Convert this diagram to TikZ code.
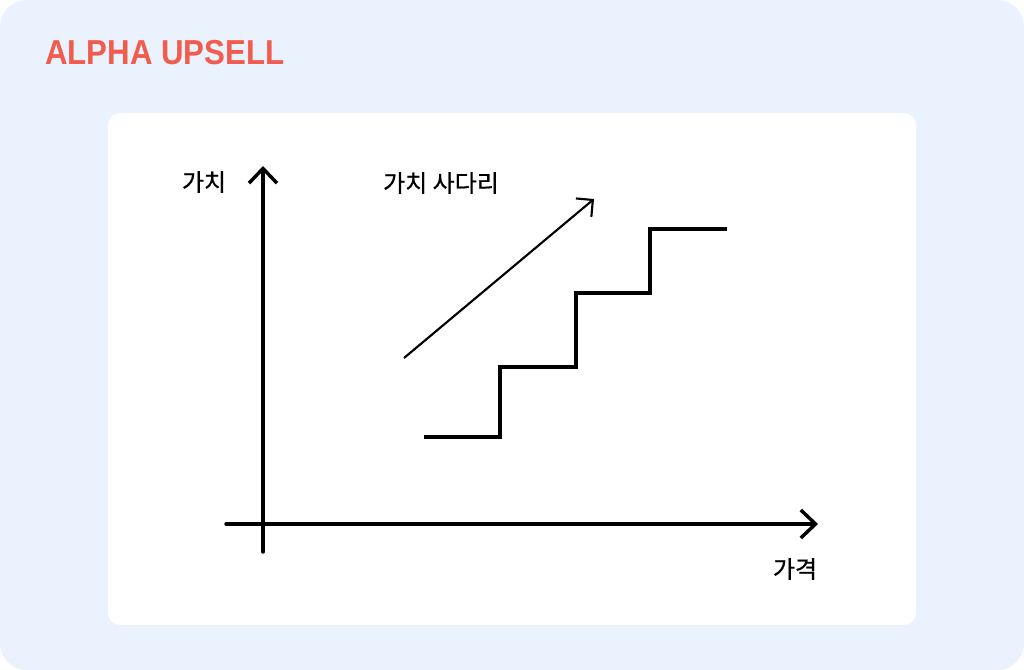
\documentclass[tikz,border=0pt]{standalone}
\usepackage{fontspec}
\setmainfont{Liberation Sans}
\newfontfamily\krfont[RawFeature={embolden=0.7}]{Noto Sans CJK KR}
\usetikzlibrary{arrows.meta}
\definecolor{bgblue}{HTML}{EAF2FD}
\definecolor{titlered}{HTML}{F25C4F}
\tikzset{
  axisline/.style={line width=2.6pt, line cap=round, -{Straight Barb[length=11pt,width=21pt,line width=2.6pt]}},
  stairline/.style={line width=2.5pt, line join=miter},
  diagline/.style={line width=1.6pt, -{Straight Barb[length=9pt,width=18pt,line width=1.6pt]}},
  krlabel/.style={font=\krfont\fontsize{18pt}{21pt}\selectfont, inner sep=0pt},
}
\begin{document}
\begin{tikzpicture}[x=0.75pt,y=-0.75pt]
\useasboundingbox (0,0) rectangle (1024,670);
\fill[bgblue, rounded corners=20pt] (0,0) rectangle (1024,670);
\fill[white, rounded corners=9pt] (108,113) rectangle (916,625);
\node[anchor=west, inner sep=0pt, text=titlered, font=\bfseries\fontsize{26pt}{30pt}\selectfont, xscale=0.9] (title) at (45,53) {ALPHA UPSELL};
% axes
\coordinate (ybot) at (263,552);
\coordinate (ytop) at (263,166);
\coordinate (xleft) at (226,524);
\coordinate (xright) at (818,524);
\draw[axisline] (ybot) -- (ytop);
\draw[axisline] (xleft) -- (xright);
\node[krlabel] (ylab) at (204,182) {가치};
\node[krlabel] (xlab) at (795,569) {가격};
\node[krlabel] (ladder) at (441,183) {가치 사다리};
% diagonal arrow
\coordinate (dstart) at (404,358);
\coordinate (dend) at (594,199);
\draw[diagline] (dstart) -- (dend);
% stairs
\coordinate (s0) at (424,437);
\coordinate (s1) at (500,437);
\coordinate (s2) at (500,367);
\coordinate (s3) at (576,367);
\coordinate (s4) at (576,293);
\coordinate (s5) at (650,293);
\coordinate (s6) at (650,229);
\coordinate (s7) at (727,229);
\draw[stairline] (s0) -- (s1) -- (s2) -- (s3) -- (s4) -- (s5) -- (s6) -- (s7);
\end{tikzpicture}
\end{document}
